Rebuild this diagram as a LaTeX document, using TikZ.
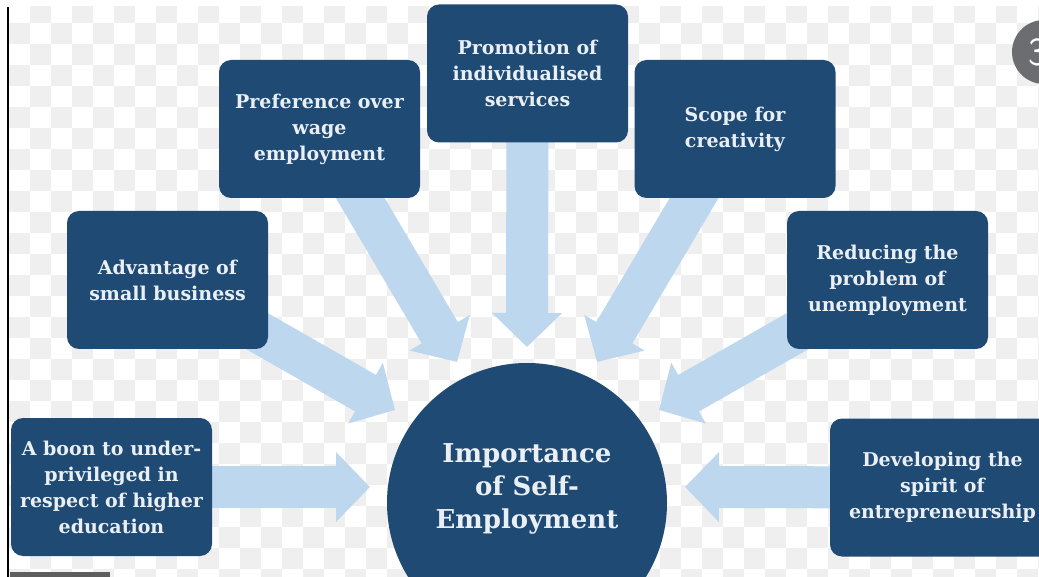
\documentclass[tikz,border=0pt]{standalone}
\usepackage{fontspec}
\setmainfont{DejaVu Serif}
\usetikzlibrary{arrows.meta,backgrounds}
\definecolor{boxblue}{HTML}{1F4A74}
\definecolor{arrowblue}{HTML}{BDD7EE}
\definecolor{checker}{HTML}{EFEFEF}
\definecolor{labelwhite}{HTML}{E9EFF5}
\definecolor{badgegray}{HTML}{6B6D70}
\definecolor{bargray}{HTML}{5E5E5E}
\begin{document}
\begin{tikzpicture}[x=1pt,y=-1pt,
  infobox/.style={rectangle, rounded corners=12pt, fill=boxblue, text=labelwhite,
    font=\bfseries\fontsize{19}{26}\selectfont, align=center,
    minimum width=201pt, minimum height=138pt, inner sep=0pt},
  hubtext/.style={text=labelwhite, font=\bfseries\fontsize{26}{33}\selectfont, align=center, inner sep=0pt},
  bigarrow/.style={draw=arrowblue, line width=42pt, -{Triangle[width=68pt,length=34pt]}},
  cell/.style={fill=checker}
  ]
\useasboundingbox (0,0) rectangle (1039,577);

% outer boxes
\node[infobox] (b1) at (111.5,487) {A boon to under-\\privileged in\\respect of higher\\education};
\node[infobox] (b2) at (167.5,280) {Advantage of\\small business};
\node[infobox] (b3) at (319.5,129) {Preference over\\wage\\employment};
\node[infobox] (b4) at (527.5,73.5) {Promotion of\\individualised\\services};
\node[infobox] (b5) at (735,129) {Scope for\\creativity};
\node[infobox] (b6) at (887.5,280) {Reducing the\\problem of\\unemployment};
\node[infobox, minimum width=225pt] (b7) at (942.5,487.5) {Developing the\\spirit of\\entrepreneurship};

% central circle
\node[circle, fill=boxblue, minimum size=280pt, inner sep=0pt] (hub) at (527,503) {};
\node[hubtext] (title) at (527,489) {Importance\\of Self-\\Employment};

% arrow tips
\coordinate (t1) at (370,487);
\coordinate (t2) at (395,410);
\coordinate (t3) at (457,362);
\coordinate (t4) at (527,347);
\coordinate (t5) at (597,362);
\coordinate (t6) at (659,410);
\coordinate (t7) at (685,487);

\begin{scope}[on background layer]
  \fill[white] (0,0) rectangle (1039,577);
  % checkerboard backdrop
  \begin{scope}
    \clip (9,7) rectangle (1039,577);
    \foreach \r in {0,...,27}{
      \foreach \c in {0,...,49}{
        \pgfmathtruncatemacro\cellodd{mod(\r+\c,2)}
        \ifnum\cellodd=1
          \fill[cell] (9+21*\c,2+21*\r) rectangle (30+21*\c,23+21*\r);
        \fi
      }
    }
  \end{scope}
  % block arrows from each box towards the circle
  \draw[bigarrow] (b1.center) -- (t1);
  \draw[bigarrow] (b2.center) -- (t2);
  \draw[bigarrow] (b3.center) -- (t3);
  \draw[bigarrow] (b4.center) -- (t4);
  \draw[bigarrow] (b5.center) -- (t5);
  \draw[bigarrow] (b6.center) -- (t6);
  \draw[bigarrow] (b7.center) -- (t7);
\end{scope}

% frame details
\draw[line width=2pt] (7.5,7) -- (7.5,577);
\fill[bargray] (10,572) rectangle (110,577);
\node[circle, fill=badgegray, minimum size=64pt, inner sep=0pt] (badge) at (1044,52) {};
\node[text=white, font=\sffamily\fontsize{40}{40}\selectfont, inner sep=0pt] (badgenum) at (1038,52) {3};
\end{tikzpicture}
\end{document}
